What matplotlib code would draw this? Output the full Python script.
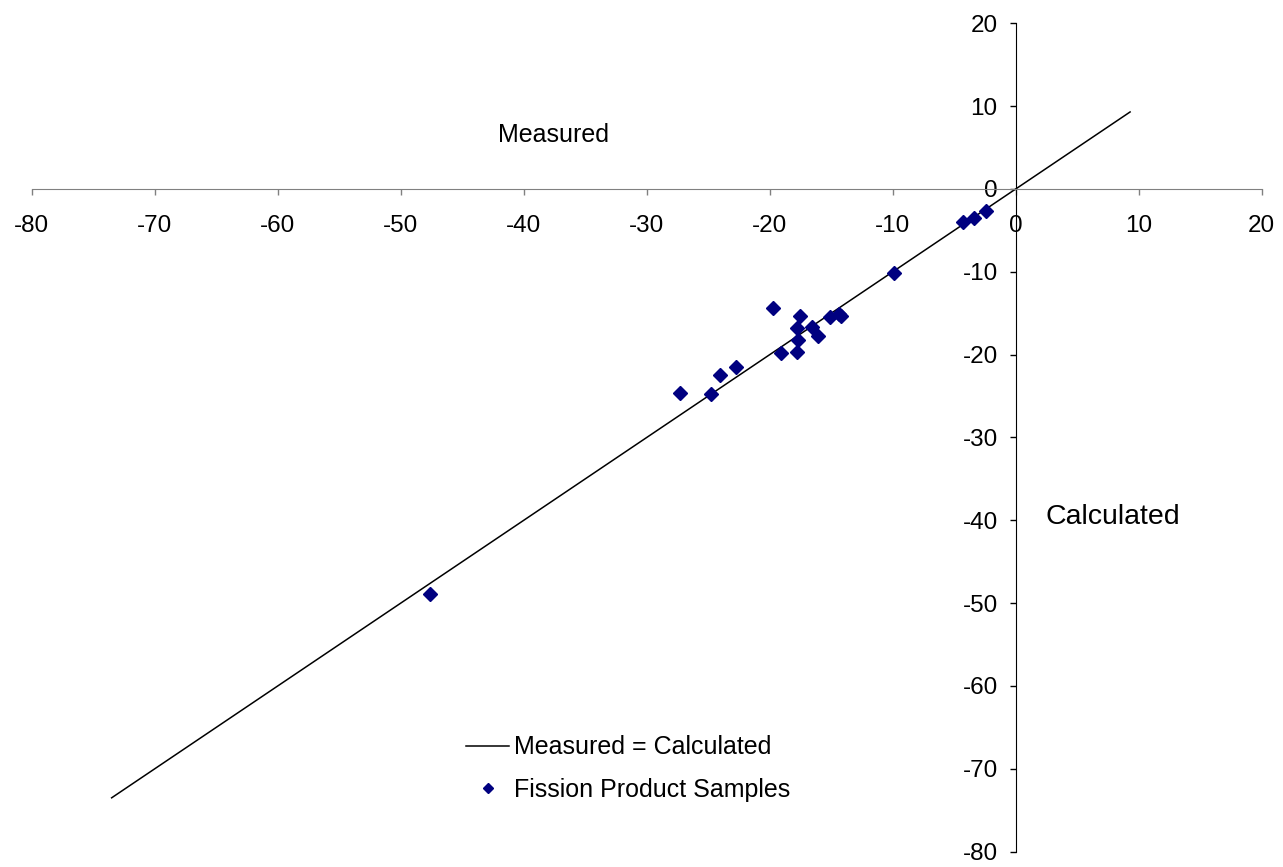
import matplotlib.pyplot as plt
import numpy as np

plt.rcParams['font.family'] = ['Liberation Sans', 'DejaVu Sans']
plt.rcParams['axes.unicode_minus'] = False

# muestras de productos de fision: medido vs calculado
medido = [-27.3, -24.8, -24.0, -22.7, -19.7, -19.1, -17.8, -17.7, -17.8, -17.5,
          -16.6, -16.1, -15.1, -14.2, -14.4, -9.9, -4.3, -3.4, -2.4, -47.6]
calculado = [-24.6, -24.8, -22.5, -21.5, -14.4, -19.8, -19.7, -18.2, -16.8, -15.3,
             -16.7, -17.7, -15.4, -15.3, -15.1, -10.1, -4.0, -3.5, -2.7, -48.9]

# recta medido = calculado
linea = [-73.5, 9.3]

x_ticks = np.arange(-80, 21, 10)
y_ticks = np.arange(-80, 21, 10)

fig = plt.figure(figsize=(12.83, 8.67), dpi=100)
ax = fig.add_axes([0.0247, 0.0177, 0.9587, 0.9554])

ax.plot(linea, linea, color='black', lw=1.1, label='Measured = Calculated', zorder=2)
ax.plot(medido, calculado, linestyle='none', marker='D', markersize=7,
        color='#000080', label='Fission Product Samples', zorder=3)

ax.set_xlim(-80, 20)
ax.set_ylim(-80, 20)

# ejes cruzando en el origen
ax.spines['left'].set_position(('data', 0))
ax.spines['bottom'].set_position(('data', 0))
ax.spines['top'].set_visible(False)
ax.spines['right'].set_visible(False)
ax.spines['bottom'].set_color('#808080')
ax.spines['left'].set_color('black')

ax.set_xticks(x_ticks)
ax.set_yticks(y_ticks)
ax.tick_params(axis='x', direction='out', length=4, width=1, color='#808080',
               labelsize=17.5, pad=15)
ax.tick_params(axis='y', direction='out', length=4, width=1, color='black',
               labelsize=17.5, pad=9)

ax.text(-37.6, 6.5, 'Measured', fontsize=18, ha='center', va='center')
ax.text(7.9, -39.6, 'Calculated', fontsize=20.5, ha='center', va='center')

ax.legend(loc='center', bbox_to_anchor=(0.485, 0.1), frameon=False, fontsize=18,
          handlelength=1.7, handletextpad=0.2, labelspacing=0.75, markerscale=0.7)

plt.savefig('out.png', dpi=100)
